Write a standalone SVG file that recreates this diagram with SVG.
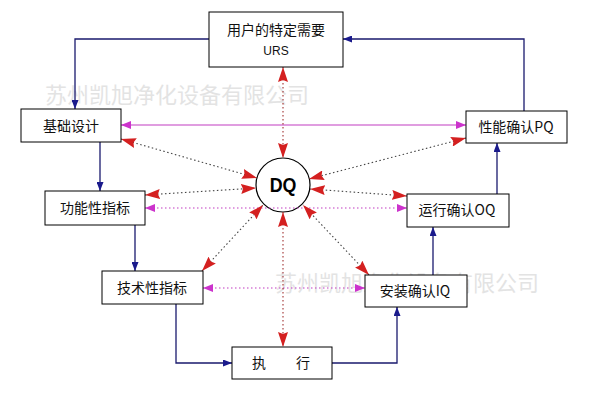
<svg xmlns="http://www.w3.org/2000/svg" width="593" height="404" viewBox="0 0 593 404">
<style>
.box{fill:#fff;stroke:#000;stroke-width:1}
.t{font-family:"Noto Sans CJK SC","Liberation Sans",sans-serif;font-size:14px;fill:#111;text-anchor:middle}
.blue{fill:none;stroke:#1a1a6e;stroke-width:1.3;marker-end:url(#mb)}
.mag{fill:none;stroke:#c23cc2;stroke-width:1.2;marker-start:url(#mm);marker-end:url(#mm)}
.magd{stroke-dasharray:1.5 2.5}
.red{fill:none;stroke:#444;stroke-width:1.1;stroke-dasharray:1.5 2.5;marker-start:url(#mr);marker-end:url(#mr)}
.redv{stroke:#a03030}
.wm{font-family:"Noto Sans CJK SC",sans-serif;font-size:22px;fill:#d8d8d8;opacity:0.7}
</style>
<defs>
<marker id="mr" viewBox="0 0 15 10" refX="15" refY="5" markerWidth="15" markerHeight="10" markerUnits="userSpaceOnUse" orient="auto-start-reverse"><path d="M0,0 L15,5 L0,10 L2,5z" fill="#d42020"/></marker>
<marker id="mm" viewBox="0 0 10 8" refX="10" refY="4" markerWidth="10" markerHeight="8" markerUnits="userSpaceOnUse" orient="auto-start-reverse"><path d="M0,0 L10,4 L0,8z" fill="#cc33cc"/></marker>
<marker id="mb" viewBox="0 0 9 7" refX="9" refY="3.5" markerWidth="9" markerHeight="7" markerUnits="userSpaceOnUse" orient="auto"><path d="M0,0 L9,3.5 L0,7z" fill="#1a1a8c"/></marker>
</defs>
<rect width="593" height="404" fill="#fff"/>
<g id="watermark"><text class="wm" x="45" y="103">苏州凯旭净化设备有限公司</text><text class="wm" x="275" y="291">苏州凯旭净化设备有限公司</text></g>
<g id="dq"><circle cx="283" cy="185" r="27" fill="#fff" stroke="#000" stroke-width="1.2"/><text x="0" y="0" transform="translate(283,192) scale(0.85,1)" font-family="Liberation Sans,sans-serif" font-weight="bold" font-size="21" text-anchor="middle" fill="#000">DQ</text></g>
<g id="connectors">
<path class="blue" d="M209,39 H75 V109"/>
<path class="blue" d="M100,142 V191"/>
<path class="blue" d="M135,225 V271"/>
<path class="blue" d="M176,304 V363 H232"/>
<path class="blue" d="M332,363 H397 V307"/>
<path class="blue" d="M433,275 V227"/>
<path class="blue" d="M497,194 V143"/>
<path class="blue" d="M524,111 V39 H343"/>
<path class="mag" d="M121,125 H466"/>
<path class="mag magd" d="M145,208 H407"/>
<path class="mag magd" d="M203,288 H365"/>
<path class="red redv" d="M283,67 V158"/>
<path class="red redv" d="M283,212 V347"/>
<path class="red" d="M121,139 L257,178"/>
<path class="red" d="M145,195 L256,188"/>
<path class="red" d="M202,271 L263,205"/>
<path class="red" d="M369,275 L303,205"/>
<path class="red" d="M407,196 L310,189"/>
<path class="red" d="M466,138 L309,179"/>
</g>
<g id="urs"><rect class="box" x="209" y="12" width="134" height="55"/><text class="t" x="276" y="35">用户的特定需要</text><text x="276" y="55" font-family="Liberation Sans,sans-serif" font-size="12" text-anchor="middle" fill="#111">URS</text></g>
<g id="jcsj"><rect class="box" x="21" y="109" width="100" height="33"/><text class="t" x="71" y="131">基础设计</text></g>
<g id="gnx"><rect class="box" x="45" y="191" width="100" height="34"/><text class="t" x="95" y="213">功能性指标</text></g>
<g id="jsx"><rect class="box" x="102" y="271" width="101" height="33"/><text class="t" x="152" y="293">技术性指标</text></g>
<g id="zx"><rect class="box" x="232" y="347" width="100" height="32"/><text class="t" x="259" y="368">执</text><text class="t" x="303" y="368">行</text></g>
<g id="iq"><rect class="box" x="365" y="275" width="102" height="32"/><text class="t" x="415" y="296">安装确认IQ</text></g>
<g id="oq"><rect class="box" x="407" y="194" width="102" height="33"/><text class="t" x="457" y="215">运行确认OQ</text></g>
<g id="pq"><rect class="box" x="466" y="111" width="101" height="32"/><text class="t" x="516" y="132">性能确认PQ</text></g>
</svg>
